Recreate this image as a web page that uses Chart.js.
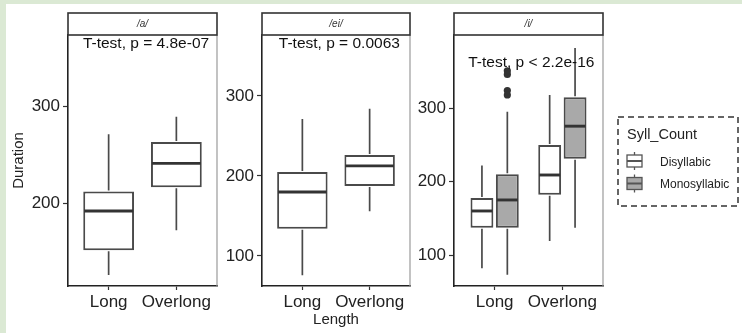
<!DOCTYPE html>
<html><head><meta charset="utf-8">
<script src="https://cdn.jsdelivr.net/npm/chart.js@4/dist/chart.umd.min.js"></script>
<style>
html,body{margin:0;padding:0;background:#dbe9d4;width:742px;height:333px;overflow:hidden;font-family:"Liberation Sans",Arial,sans-serif;}
#white{position:absolute;left:6px;top:4px;right:0;bottom:0;background:#fff;}
canvas{position:absolute;top:0;}
#legend{position:absolute;left:0;top:0;}
</style></head><body>
<div id="white"></div>
<canvas id="c1" width="222" height="333" style="left:0px"></canvas>
<canvas id="c2" width="193" height="333" style="left:222px"></canvas>
<canvas id="c3" width="193" height="333" style="left:415px"></canvas>
<svg id="legend" width="742" height="333">
  <rect x="618" y="117" width="120" height="89" fill="none" stroke="#333" stroke-width="1.5" stroke-dasharray="6,4"/>
  <text x="627" y="139" font-family="Liberation Sans, Arial, sans-serif" font-size="14.5" fill="#222">Syll_Count</text>
  <g stroke="#555" stroke-width="1.3">
    <line x1="634.5" y1="152" x2="634.5" y2="170"/>
    <rect x="627" y="155" width="15" height="12" fill="#fff"/>
    <line x1="627" y1="161" x2="642" y2="161" stroke-width="2"/>
    <line x1="634.5" y1="174.5" x2="634.5" y2="192.5"/>
    <rect x="627" y="177.5" width="15" height="12" fill="#a9a9a9"/>
    <line x1="627" y1="183.5" x2="642" y2="183.5" stroke-width="2"/>
  </g>
  <text x="660" y="165.5" font-family="Liberation Sans, Arial, sans-serif" font-size="12" fill="#222">Disyllabic</text>
  <text x="660" y="187.5" font-family="Liberation Sans, Arial, sans-serif" font-size="12" fill="#222">Monosyllabic</text>
</svg>
<script>
// ---- data ----
const categories = ['Long', 'Overlong'];
const panelNames = ['/a/', '/ei/', '/i/'];
const pLabels = ['T-test, p = 4.8e-07', 'T-test, p = 0.0063', 'T-test, p < 2.2e-16'];
const yTicks = [100, 200, 300];
// box stats: [lower whisker, Q1, median, Q3, upper whisker]
const a_Long = [126, 151.5, 192, 212, 271];
const a_Overlong = [172, 216.5, 241, 263, 289];
const ei_Long = [76, 134, 180, 205, 271];
const ei_Overlong = [156, 187.5, 212.5, 226, 284];
const i_Long_Disyllabic = [82, 137, 160, 177.6, 222];
const i_Overlong_Disyllabic = [119, 182, 209, 250, 318];
const i_Long_Monosyllabic = [73, 137, 175, 210, 295];
const i_Overlong_Monosyllabic = [137, 231, 275.5, 315, 382];
const i_Long_Monosyllabic_outliers = [351, 346, 324, 318];
const i_Overlong_Monosyllabic_outliers = [];

Chart.defaults.font.family = '"Liberation Sans", Arial, sans-serif';
Chart.defaults.color = '#222';

const boxPlugin = {
  id: 'boxExtras',
  afterDatasetsDraw(chart) {
    const {ctx} = chart;
    const y = chart.scales.y;
    ctx.save();
    chart.data.datasets.forEach((ds, di) => {
      const meta = chart.getDatasetMeta(di);
      ds.stats.forEach((s, i) => {
        const el = meta.data[i];
        const cx = el.x, w = el.width;
        ctx.strokeStyle = '#4a4a4a';
        ctx.lineWidth = 1.7;
        ctx.beginPath();
        ctx.moveTo(cx, y.getPixelForValue(s[4])); ctx.lineTo(cx, y.getPixelForValue(s[3]) - 1);
        ctx.moveTo(cx, y.getPixelForValue(s[1]) + 1); ctx.lineTo(cx, y.getPixelForValue(s[0]));
        ctx.stroke();
        ctx.strokeStyle = '#333';
        ctx.lineWidth = 2.9;
        const ym = y.getPixelForValue(s[2]);
        ctx.beginPath(); ctx.moveTo(cx - w / 2 + 1, ym); ctx.lineTo(cx + w / 2 - 1, ym); ctx.stroke();
        const outs = (ds.outliers && ds.outliers[i]) || [];
        ctx.fillStyle = '#333';
        outs.forEach(v => {
          ctx.beginPath(); ctx.arc(cx, y.getPixelForValue(v), 3.6, 0, Math.PI * 2); ctx.fill();
        });
      });
    });
    ctx.restore();
  },
  afterDraw(chart) {
    const {ctx, chartArea} = chart;
    const o = chart.options.plugins.boxExtras;
    ctx.save();
    ctx.strokeStyle = '#9a9a9a'; ctx.lineWidth = 1.2;
    ctx.beginPath(); ctx.moveTo(chartArea.right, chartArea.top); ctx.lineTo(chartArea.right, chartArea.bottom); ctx.stroke();
    ctx.fillStyle = '#fff';
    ctx.strokeStyle = '#333'; ctx.lineWidth = 1.6;
    ctx.fillRect(chartArea.left, 13, chartArea.right - chartArea.left, chartArea.top - 13);
    ctx.strokeRect(chartArea.left, 13, chartArea.right - chartArea.left, chartArea.top - 13);
    ctx.fillStyle = '#333';
    ctx.font = 'italic 10px "Liberation Sans", Arial, sans-serif';
    ctx.textAlign = 'center'; ctx.textBaseline = 'middle';
    ctx.fillText(o.header, (chartArea.left + chartArea.right) / 2, (13 + chartArea.top) / 2 + 0.5);
    ctx.fillStyle = '#111';
    ctx.font = '15.5px "Liberation Sans", Arial, sans-serif';
    ctx.textAlign = 'left'; ctx.textBaseline = 'middle';
    ctx.fillText(o.pLabel, chart.scales.x.getPixelForValue(o.pX), chart.scales.y.getPixelForValue(o.pY));
    ctx.restore();
  }
};

function makePanel(id, idx, groups, yMin, yMax, yWidth, pX, pY, yTitle, xTitle) {
  const multi = groups.length > 1;
  const datasets = groups.map(g => ({
    label: g.label,
    data: g.stats.map((s, i) => ({x: i, y: [s[1], s[3]]})),
    stats: g.stats,
    outliers: g.outliers,
    backgroundColor: g.fill,
    borderColor: '#4a4a4a',
    borderWidth: 2,
    borderSkipped: false,
    categoryPercentage: 0.75,
    barPercentage: multi ? 0.9 : 1
  }));
  return new Chart(document.getElementById(id), {
    type: 'bar',
    data: {datasets},
    plugins: [boxPlugin],
    options: {
      responsive: false,
      animation: false,
      layout: {padding: {top: 35, right: 5, bottom: 0, left: 0}},
      plugins: {
        legend: {display: false},
        tooltip: {enabled: false},
        boxExtras: {header: panelNames[idx], pLabel: pLabels[idx], pX, pY}
      },
      scales: {
        x: {
          type: 'linear', min: -0.6, max: 1.6, offset: false,
          afterBuildTicks: s => { s.ticks = categories.map((c, i) => ({value: i})); },
          afterFit: s => { s.height = 47; },
          ticks: {callback: v => categories[v], font: {size: 17}, color: '#222', padding: 2.5, maxRotation: 0, autoSkip: false},
          grid: {display: true, offset: false, drawOnChartArea: false, drawTicks: true, tickLength: 4, tickColor: '#333', tickWidth: 1.2},
          border: {display: true, color: '#222', width: 1.6},
          title: {display: !!xTitle, text: xTitle || '', font: {size: 15}, color: '#222', padding: {top: 0, bottom: 4}}
        },
        y: {
          type: 'linear', min: yMin, max: yMax,
          afterBuildTicks: s => { s.ticks = yTicks.filter(v => v >= s.min && v <= s.max).map(v => ({value: v})); },
          afterFit: s => { s.width = yWidth; },
          ticks: {font: {size: 17}, color: '#222', padding: 3},
          grid: {display: true, drawOnChartArea: false, drawTicks: true, tickLength: 5, tickColor: '#333', tickWidth: 1.2},
          border: {display: true, color: '#222', width: 1.6},
          title: {display: !!yTitle, text: yTitle || '', font: {size: 15}, color: '#222', padding: {top: 10, bottom: 0}}
        }
      }
    }
  });
}

makePanel('c1', 0, [{label: 'all', stats: [a_Long, a_Overlong], fill: '#ffffff'}],
  114.7, 373.2, 68, -0.38, 364, 'Duration', null);
makePanel('c2', 1, [{label: 'all', stats: [ei_Long, ei_Overlong], fill: '#ffffff'}],
  62.5, 376, 40, -0.35, 365, null, 'Length');
makePanel('c3', 2, [
  {label: 'Disyllabic', stats: [i_Long_Disyllabic, i_Overlong_Disyllabic], fill: '#ffffff'},
  {label: 'Monosyllabic', stats: [i_Long_Monosyllabic, i_Overlong_Monosyllabic], fill: '#a9a9a9',
   outliers: [i_Long_Monosyllabic_outliers, i_Overlong_Monosyllabic_outliers]}
], 57.8, 399.7, 39, -0.39, 362.6, null, null);
</script>
</body></html>
